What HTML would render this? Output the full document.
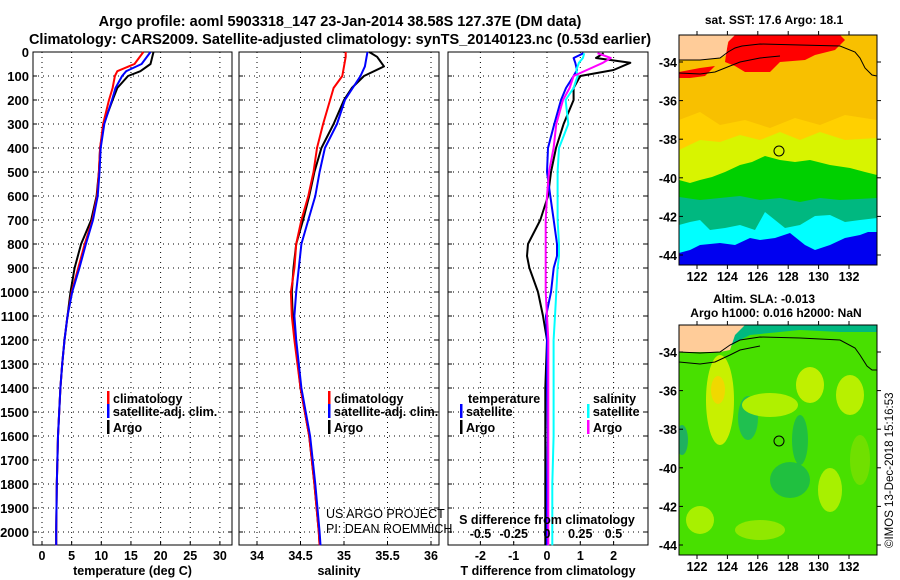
<!DOCTYPE html>
<html><head><meta charset="utf-8"><style>
html,body{margin:0;padding:0;background:#fff;}
svg{display:block;font-family:"Liberation Sans",sans-serif;font-weight:bold;}
</style></head><body>
<svg id="fig" width="900" height="580" viewBox="0 0 900 580" xmlns="http://www.w3.org/2000/svg">
<text x="340" y="26" font-size="14.5" text-anchor="middle">Argo profile: aoml 5903318_147 23-Jan-2014 38.58S 127.37E (DM data)</text>
<text x="340" y="44" font-size="14.5" text-anchor="middle">Climatology: CARS2009. Satellite-adjusted climatology: synTS_20140123.nc (0.53d earlier)</text>

<!-- top map -->
<g>
<defs><clipPath id="c1"><rect x="679" y="35" width="198" height="230"/></clipPath>
<clipPath id="c2"><rect x="679" y="325" width="198" height="230"/></clipPath></defs>
<g clip-path="url(#c1)">
<rect x="679" y="35" width="198" height="230" fill="#F8C000"/>
<polygon fill="#FFD000" points="679,120 700,112 720,125 745,120 770,128 795,118 820,125 845,115 877,120 877,175 679,180"/>
<polygon fill="#D8F400" points="679,150 700,140 720,142 740,135 760,140 780,132 800,140 820,132 845,140 877,138 877,180 679,190"/>
<polygon fill="#00D000" points="679,180 690,183 700,180 712,177 725,172 740,165 752,162 765,156 780,160 795,162 810,160 830,165 850,168 865,172 877,175 877,205 679,205"/>
<polygon fill="#00B880" points="679,197 700,200 720,198 740,196 760,200 780,198 800,202 820,198 840,200 877,198 877,240 679,240"/>
<polygon fill="#00FFFF" points="679,225 690,222 700,220 710,230 725,228 740,225 755,230 765,212 775,220 785,228 800,225 815,216 830,215 845,222 860,220 877,218 877,270 679,270"/>
<polygon fill="#0000F0" points="679,253 690,250 700,245 720,243 735,245 750,238 760,240 775,238 790,233 805,245 815,250 830,245 845,238 860,235 868,232 877,232 877,270 679,270"/>
<polygon fill="#FF0000" points="730,35 840,35 845,40 835,50 815,55 805,60 780,62 770,72 745,72 735,66 725,62 727,48"/>
<polygon fill="#FF0000" points="679,72 700,68 715,66 705,76 690,78 679,78"/>
<polygon fill="#FFCC99" points="679,35 735,35 728,42 726,55 720,58 700,60 679,60"/>
<polyline fill="none" stroke="#000" stroke-width="1" points="679,60 700,60 720,58 728,52 735,48 742,46 760,44 800,45 840,46 855,52 860,58 865,68 872,75 877,76"/>
<polyline fill="none" stroke="#000" stroke-width="1" points="679,73 700,74 715,72 730,66 740,62 760,58 780,56"/>
<circle cx="779" cy="151" r="5" fill="none" stroke="#000" stroke-width="1"/>
</g>
<rect x="679" y="35" width="198" height="230" fill="none" stroke="#000" stroke-width="1"/>
</g>
<text x="774" y="24" font-size="12" text-anchor="middle">sat. SST: 17.6 Argo: 18.1</text>

<!-- bottom map -->
<g>
<g clip-path="url(#c2)">
<rect x="679" y="325" width="198" height="230" fill="#48E000"/>
<ellipse cx="720" cy="400" rx="14" ry="45" fill="#C8F000"/>
<ellipse cx="718" cy="390" rx="7" ry="14" fill="#F0D800"/>
<ellipse cx="748" cy="418" rx="10" ry="22" fill="#20C050"/>
<ellipse cx="770" cy="405" rx="28" ry="12" fill="#B0F000"/>
<ellipse cx="810" cy="385" rx="14" ry="18" fill="#C0F000"/>
<ellipse cx="850" cy="395" rx="14" ry="20" fill="#B8F000"/>
<ellipse cx="800" cy="440" rx="8" ry="25" fill="#20C040"/>
<ellipse cx="790" cy="480" rx="20" ry="18" fill="#20C040"/>
<ellipse cx="830" cy="490" rx="12" ry="22" fill="#A8F000"/>
<ellipse cx="700" cy="520" rx="14" ry="14" fill="#A8F000"/>
<ellipse cx="760" cy="530" rx="25" ry="10" fill="#90E800"/>
<ellipse cx="860" cy="460" rx="10" ry="25" fill="#70E000"/>
<ellipse cx="682" cy="440" rx="6" ry="15" fill="#20B060"/>
<polygon fill="#00B880" points="679,352 700,352 725,350 740,340 750,335 800,330 840,332 877,332 877,325 679,325"/>
<polygon fill="#FFCC99" points="679,325 745,325 735,335 730,350 720,352 679,352"/>
<polyline fill="none" stroke="#000" stroke-width="1" points="679,352 700,353 720,352 730,345 740,340 760,337 800,338 840,340 855,348 860,355 867,366 872,370 877,370"/>
<polyline fill="none" stroke="#000" stroke-width="1" points="679,362 700,364 715,362 730,355 740,350 760,346"/>
<circle cx="779" cy="441" r="5" fill="none" stroke="#000" stroke-width="1"/>
</g>
<rect x="679" y="325" width="198" height="230" fill="none" stroke="#000" stroke-width="1"/>
</g>
<text x="764" y="303" font-size="12" text-anchor="middle">Altim. SLA: -0.013</text>
<text x="776" y="317" font-size="12" text-anchor="middle">Argo h1000: 0.016 h2000: NaN</text>
<text transform="translate(893,548) rotate(-90)" font-size="11.5" font-weight="normal">©IMOS 13-Dec-2018 15:16:53</text>

<g id="plots"></g>
</svg>
<script>
// ---------- data ----------
const depthTicks = [0,100,200,300,400,500,600,700,800,900,1000,1100,1200,1300,1400,1500,1600,1700,1800,1900,2000];
const tempTicks = [0,5,10,15,20,25,30];
const salTicks = [34,34.5,35,35.5,36];
const salTickLabels = ["34","34.5","35","35.5","36"];
const tdiffTicks = [-2,-1,0,1,2];
const sdiffTicks = [-0.5,-0.25,0,0.25,0.5];
const sdiffTickLabels = ["-0.5","-0.25","0","0.25","0.5"];
const latTicks = [-34,-36,-38,-40,-42,-44];
const lonTicks = [122,124,126,128,130,132];

const depthT = [0,50,80,100,150,200,300,400,500,600,700,800,900,1000,1100,1200,1300,1400,1500,1600,1800,2000,2055];
const tempArgo = [18.8,18.3,16.6,14.5,12.7,11.9,10.4,9.8,9.6,9.2,8.3,6.6,5.5,4.8,4.3,3.8,3.4,3.1,2.9,2.7,2.5,2.4,2.4];
const tempClim = [17.1,15.6,12.7,12.3,11.9,11.3,10.3,9.8,9.6,9.3,8.5,7.2,6.1,5.0,4.3,3.8,3.4,3.1,2.9,2.7,2.5,2.4,2.4];
const tempSat  = [18.3,16.8,14.2,13.5,12.4,11.8,10.5,9.9,9.7,9.4,8.6,7.4,6.3,5.1,4.3,3.8,3.4,3.1,2.9,2.7,2.5,2.4,2.4];

const depthS = [0,20,60,100,150,200,300,400,500,600,700,800,900,1000,1100,1200,1400,1600,1800,2000,2055];
const salArgo = [35.29,35.38,35.46,35.23,35.09,35.0,34.88,34.74,34.66,34.6,34.53,34.45,34.42,34.4,34.41,34.44,34.5,34.6,34.66,34.71,34.72];
const salClim = [35.02,35.02,35.0,34.98,34.88,34.84,34.76,34.69,34.65,34.59,34.51,34.45,34.43,34.39,34.4,34.43,34.5,34.6,34.66,34.71,34.72];
const salSat  = [35.27,35.26,35.24,35.19,35.1,35.01,34.92,34.78,34.72,34.67,34.59,34.51,34.48,34.45,34.43,34.45,34.51,34.61,34.67,34.72,34.73];

const depthD = [5,25,45,75,100,150,200,300,400,500,600,700,800,850,900,1000,1100,1200,1400,1600,1800,2000,2055];
const tdiffArgo = [1.7,1.47,2.5,2.0,1.0,0.8,0.8,0.5,0.27,0.12,0.03,-0.2,-0.57,-0.6,-0.53,-0.27,-0.12,0.0,-0.05,-0.05,-0.05,-0.05,-0.05];
const tdiffSat  = [1.1,0.8,0.85,0.9,0.8,0.57,0.42,0.22,0.03,0.0,0.1,0.2,0.3,0.3,0.2,0.12,-0.03,0.0,0.0,0.02,0.0,0.0,0.0];
const sdiffArgo = [0.38,0.48,0.42,0.3,0.2,0.17,0.12,0.07,0.05,0.015,0.0,-0.01,-0.01,-0.01,-0.01,-0.01,0.0,0.01,0.01,0.01,0.01,0.01,0.01];
const sdiffSat  = [0.28,0.27,0.24,0.22,0.23,0.2,0.14,0.16,0.09,0.08,0.08,0.08,0.09,0.09,0.08,0.07,0.06,0.05,0.05,0.05,0.04,0.04,0.04];

// ---------- drawing ----------
const NS = "http://www.w3.org/2000/svg";
const root = document.getElementById('plots');
function mk(tag, attrs, parent){
  const e = document.createElementNS(NS, tag);
  for (const k in attrs) e.setAttribute(k, attrs[k]);
  (parent||root).appendChild(e);
  return e;
}
const TOP = 52, BOT = 545;
const yD = d => TOP + d * 0.24;

function panel(name, x0, x1, xf, ticks, labels, xlabel, showDepth){
  const g = mk('g', {});
  
  
  depthTicks.forEach(d => {
    const y = yD(d);
    const gl = mk('line', {x1:x0, x2:x1, y1:y, y2:y, stroke:'#000', 'stroke-width':1, 'stroke-dasharray':'1,4'}, g);
    
    
    mk('line', {x1:x0, x2:x0+4, y1:y, y2:y, stroke:'#000'}, g);
    mk('line', {x1:x1-4, x2:x1, y1:y, y2:y, stroke:'#000'}, g);
    if (showDepth){
      const t = mk('text', {x:x0-4, y:y+5, 'font-size':13, 'text-anchor':'end'}, g);
      t.textContent = d;
      
      
    }
  });
  ticks.forEach((v,i) => {
    const x = xf(v);
    const gl = mk('line', {x1:x, x2:x, y1:TOP, y2:BOT, stroke:'#000', 'stroke-width':1, 'stroke-dasharray':'1,4'}, g);
    
    
    mk('line', {x1:x, x2:x, y1:BOT, y2:BOT-4, stroke:'#000'}, g);
    if (labels){
      const t = mk('text', {x:x, y:BOT+15, 'font-size':12.5, 'text-anchor':'middle'}, g);
      t.textContent = labels[i];
      
      
    }
  });
  mk('rect', {x:x0, y:TOP, width:x1-x0, height:BOT-TOP, fill:'none', stroke:'#000', 'stroke-width':1}, g);
  const xl = mk('text', {x:(x0+x1)/2, y:575, 'font-size':12.5, 'text-anchor':'middle'}, g);
  xl.textContent = xlabel;
  
  
  return g;
}
function line(g, depths, vals, xf, color, w, name){
  const pts = depths.map((d,i) => xf(vals[i]).toFixed(1) + ',' + yD(d).toFixed(1)).join(' ');
  const p = mk('polyline', {points:pts, fill:'none', stroke:color, 'stroke-width':w, 'stroke-linejoin':'round'}, g);
  
  
}
function legend(g, x, y, color, label, name){
  mk('rect', {x:x, y:y-12, width:2.5, height:14, fill:color}, g);
  const t = mk('text', {x:x+6, y:y, 'font-size':12.5}, g);
  t.textContent = label;
  
  
}

// Panel 1: temperature
const xT = v => 42 + v * 5.93;
const g1 = panel('temperature-panel', 33, 232, xT, tempTicks, tempTicks.map(String), 'temperature (deg C)', true);
line(g1, depthT, tempArgo, xT, '#000', 2, 'temp-argo-line');
line(g1, depthT, tempClim, xT, '#f00', 2, 'temp-climatology-line');
line(g1, depthT, tempSat, xT, '#00f', 2, 'temp-satellite-line');
legend(g1, 107, 403, '#f00', 'climatology', 'legend-climatology');
legend(g1, 107, 416, '#00f', 'satellite-adj. clim.', 'legend-satellite-adj');
legend(g1, 107, 432, '#000', 'Argo', 'legend-argo');

// Panel 2: salinity
const xS = v => 257 + (v - 34) * 87;
const g2 = panel('salinity-panel', 239, 439, xS, salTicks, salTickLabels, 'salinity', false);
line(g2, depthS, salArgo, xS, '#000', 2, 'sal-argo-line');
line(g2, depthS, salClim, xS, '#f00', 2, 'sal-climatology-line');
line(g2, depthS, salSat, xS, '#00f', 2, 'sal-satellite-line');
legend(g2, 328, 403, '#f00', 'climatology', 'legend-climatology');
legend(g2, 328, 416, '#00f', 'satellite-adj. clim.', 'legend-satellite-adj');
legend(g2, 328, 432, '#000', 'Argo', 'legend-argo');
const c1 = mk('text', {x:326, y:518, 'font-size':12.5, 'font-weight':'normal'}, g2);
c1.textContent = 'US ARGO PROJECT';


const c2 = mk('text', {x:326, y:533, 'font-size':12.5, 'font-weight':'normal'}, g2);
c2.textContent = 'PI: DEAN ROEMMICH';



// Panel 3: differences
const xTD = v => 547 + v * 33.3;
const xSD = v => 547 + v * 133;
const g3 = panel('difference-panel', 448, 648, xTD, tdiffTicks, tdiffTicks.map(String), 'T difference from climatology', false);
line(g3, depthD, tdiffArgo, xTD, '#000', 2, 'tdiff-argo-line');
line(g3, depthD, tdiffSat, xTD, '#00f', 2, 'tdiff-satellite-line');
line(g3, depthD, sdiffSat, xSD, '#0ff', 2, 'sdiff-satellite-line');
line(g3, depthD, sdiffArgo, xSD, '#f0f', 2, 'sdiff-argo-line');
const lt = mk('text', {x:468, y:403, 'font-size':12.5}, g3); lt.textContent = 'temperature';


const ls = mk('text', {x:593, y:403, 'font-size':12.5}, g3); ls.textContent = 'salinity';


legend(g3, 460, 416, '#00f', 'satellite', 'legend-t-satellite');
legend(g3, 460, 432, '#000', 'Argo', 'legend-t-argo');
legend(g3, 587, 416, '#0ff', 'satellite', 'legend-s-satellite');
legend(g3, 587, 432, '#f0f', 'Argo', 'legend-s-argo');
const sdt = mk('text', {x:547, y:524, 'font-size':12.5, 'text-anchor':'middle'}, g3);
sdt.textContent = 'S difference from climatology';


sdiffTicks.forEach((v,i) => {
  const t = mk('text', {x:xSD(v), y:538, 'font-size':12.5, 'text-anchor':'middle'}, g3);
  t.textContent = sdiffTickLabels[i];
  
  
});

// Map axes
function mapAxes(name, yTop, yBot, lat34){
  const g = mk('g', {});
  
  
  latTicks.forEach(l => {
    const y = lat34 + (-34 - l) * 19.3;
    mk('line', {x1:877, x2:881, y1:y, y2:y, stroke:'#000'}, g);
    mk('line', {x1:679, x2:683, y1:y, y2:y, stroke:'#000'}, g);
    const t = mk('text', {x:677, y:y+5, 'font-size':12.5, 'text-anchor':'end'}, g);
    t.textContent = l;
    
    
  });
  lonTicks.forEach(l => {
    const x = 697 + (l - 122) * 15.2;
    mk('line', {x1:x, x2:x, y1:yTop, y2:yTop-4, stroke:'#000'}, g);
    mk('line', {x1:x, x2:x, y1:yBot, y2:yBot+4, stroke:'#000'}, g);
    const t = mk('text', {x:x, y:yBot+16, 'font-size':12.5, 'text-anchor':'middle'}, g);
    t.textContent = l;
    
    
  });
}
mapAxes('sst-map-axes', 35, 265, 62);
mapAxes('sla-map-axes', 325, 555, 352);
</script>
</body></html>
